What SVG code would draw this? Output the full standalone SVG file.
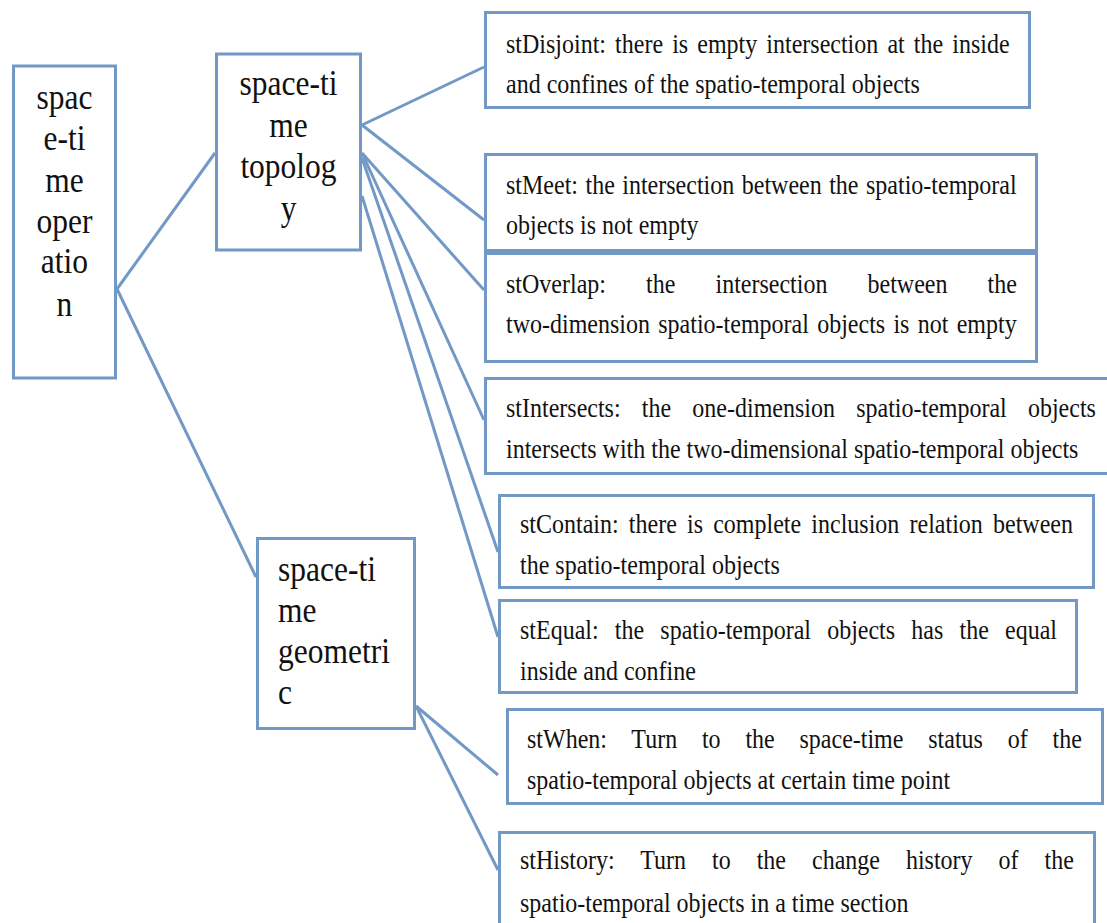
<svg xmlns="http://www.w3.org/2000/svg" width="1107" height="923" viewBox="0 0 1107 923">
<style>
.box{fill:#fff;stroke:#7299C6;stroke-width:3}
.ln{stroke:#7299C6;stroke-width:3;fill:none}
.t{font-family:"Liberation Serif","Times New Roman",serif;font-size:24px;fill:#111}
.b{font-family:"Liberation Serif","Times New Roman",serif;font-size:31.5px;fill:#111}
.c{text-anchor:middle}
</style>
<rect width="1107" height="923" fill="#fff"/>
<g id="connectors">
<line class="ln" x1="117" y1="289" x2="215" y2="153"/>
<line class="ln" x1="117" y1="289" x2="256" y2="577"/>
<line class="ln" x1="362" y1="125" x2="484" y2="67"/>
<line class="ln" x1="362" y1="125" x2="484" y2="220"/>
<line class="ln" x1="362" y1="153" x2="484" y2="290"/>
<line class="ln" x1="362" y1="153" x2="484" y2="420"/>
<line class="ln" x1="362" y1="158" x2="498" y2="552"/>
<line class="ln" x1="362" y1="196" x2="498" y2="637"/>
<line class="ln" x1="416" y1="706" x2="498" y2="775"/>
<line class="ln" x1="416" y1="706" x2="498" y2="870"/>
</g>
<g id="op">
<rect class="box" x="13.5" y="66" width="102" height="312"/>
<text class="b c" x="64.5" y="0" transform="matrix(1 0 0 1.15 0 109)">spac</text>
<text class="b c" x="64.5" y="0" transform="matrix(1 0 0 1.15 0 150)">e-ti</text>
<text class="b c" x="64.5" y="0" transform="matrix(1 0 0 1.15 0 192)">me</text>
<text class="b c" x="64.5" y="0" transform="matrix(1 0 0 1.15 0 233)">oper</text>
<text class="b c" x="64.5" y="0" transform="matrix(1 0 0 1.15 0 273)">atio</text>
<text class="b c" x="64.5" y="0" transform="matrix(1 0 0 1.15 0 316)">n</text>
</g>
<g id="topology">
<rect class="box" x="216.5" y="54" width="144" height="196"/>
<text class="b c" x="288.5" y="0" transform="matrix(1 0 0 1.15 0 95)">space-ti</text>
<text class="b c" x="288.5" y="0" transform="matrix(1 0 0 1.15 0 137)">me</text>
<text class="b c" x="288.5" y="0" transform="matrix(1 0 0 1.15 0 178)">topolog</text>
<text class="b c" x="288.5" y="0" transform="matrix(1 0 0 1.15 0 220)">y</text>
</g>
<g id="geometric">
<rect class="box" x="257.5" y="538.5" width="157" height="190"/>
<text class="b" x="278" y="0" transform="matrix(1 0 0 1.15 0 581)">space-ti</text>
<text class="b" x="278" y="0" transform="matrix(1 0 0 1.15 0 622)">me</text>
<text class="b" x="278" y="0" transform="matrix(1 0 0 1.15 0 663)">geometri</text>
<text class="b" x="278" y="0" transform="matrix(1 0 0 1.15 0 704)">c</text>
</g>
<g id="disjoint">
<rect class="box" x="485.5" y="12.5" width="544" height="95"/>
<text class="t" x="506" y="0" word-spacing="3.1" transform="matrix(1 0 0 1.15 0 53)">stDisjoint: there is empty intersection at the inside</text>
<text class="t" x="506" y="0" transform="matrix(1 0 0 1.15 0 93)">and confines of the spatio-temporal objects</text>
</g>
<g id="meet">
<rect class="box" x="485.5" y="154.5" width="551" height="96"/>
<text class="t" x="506" y="0" word-spacing="1.5" transform="matrix(1 0 0 1.15 0 194)">stMeet: the intersection between the spatio-temporal</text>
<text class="t" x="506" y="0" transform="matrix(1 0 0 1.15 0 234)">objects is not empty</text>
</g>
<g id="overlap">
<rect class="box" x="485.5" y="253.5" width="551" height="108"/>
<text class="t" x="506" y="0" word-spacing="34.1" transform="matrix(1 0 0 1.15 0 293)">stOverlap: the intersection between the</text>
<text class="t" x="506" y="0" word-spacing="2.3" transform="matrix(1 0 0 1.15 0 333)">two-dimension spatio-temporal objects is not empty</text>
</g>
<g id="intersects">
<rect class="box" x="485.5" y="378.5" width="640" height="95"/>
<text class="t" x="506" y="0" word-spacing="15.2" transform="matrix(1 0 0 1.15 0 417)">stIntersects: the one-dimension spatio-temporal objects</text>
<text class="t" x="506" y="0" transform="matrix(1 0 0 1.15 0 458)">intersects with the two-dimensional spatio-temporal objects</text>
</g>
<g id="contain">
<rect class="box" x="499.5" y="495.5" width="594" height="92"/>
<text class="t" x="520" y="0" word-spacing="4.2" transform="matrix(1 0 0 1.15 0 533)">stContain: there is complete inclusion relation between</text>
<text class="t" x="520" y="0" transform="matrix(1 0 0 1.15 0 574)">the spatio-temporal objects</text>
</g>
<g id="equal">
<rect class="box" x="499.5" y="600.5" width="577" height="92"/>
<text class="t" x="520" y="0" word-spacing="10.2" transform="matrix(1 0 0 1.15 0 639)">stEqual: the spatio-temporal objects has the equal</text>
<text class="t" x="520" y="0" transform="matrix(1 0 0 1.15 0 680)">inside and confine</text>
</g>
<g id="when">
<rect class="box" x="507.5" y="709.5" width="595" height="94"/>
<text class="t" x="527" y="0" word-spacing="18.8" transform="matrix(1 0 0 1.15 0 748)">stWhen: Turn to the space-time status of the</text>
<text class="t" x="527" y="0" transform="matrix(1 0 0 1.15 0 789)">spatio-temporal objects at certain time point</text>
</g>
<g id="history">
<rect class="box" x="499.5" y="832.5" width="595" height="120"/>
<text class="t" x="520" y="0" word-spacing="20" transform="matrix(1 0 0 1.15 0 869)">stHistory: Turn to the change history of the</text>
<text class="t" x="520" y="0" transform="matrix(1 0 0 1.15 0 912)">spatio-temporal objects in a time section</text>
</g>
</svg>
